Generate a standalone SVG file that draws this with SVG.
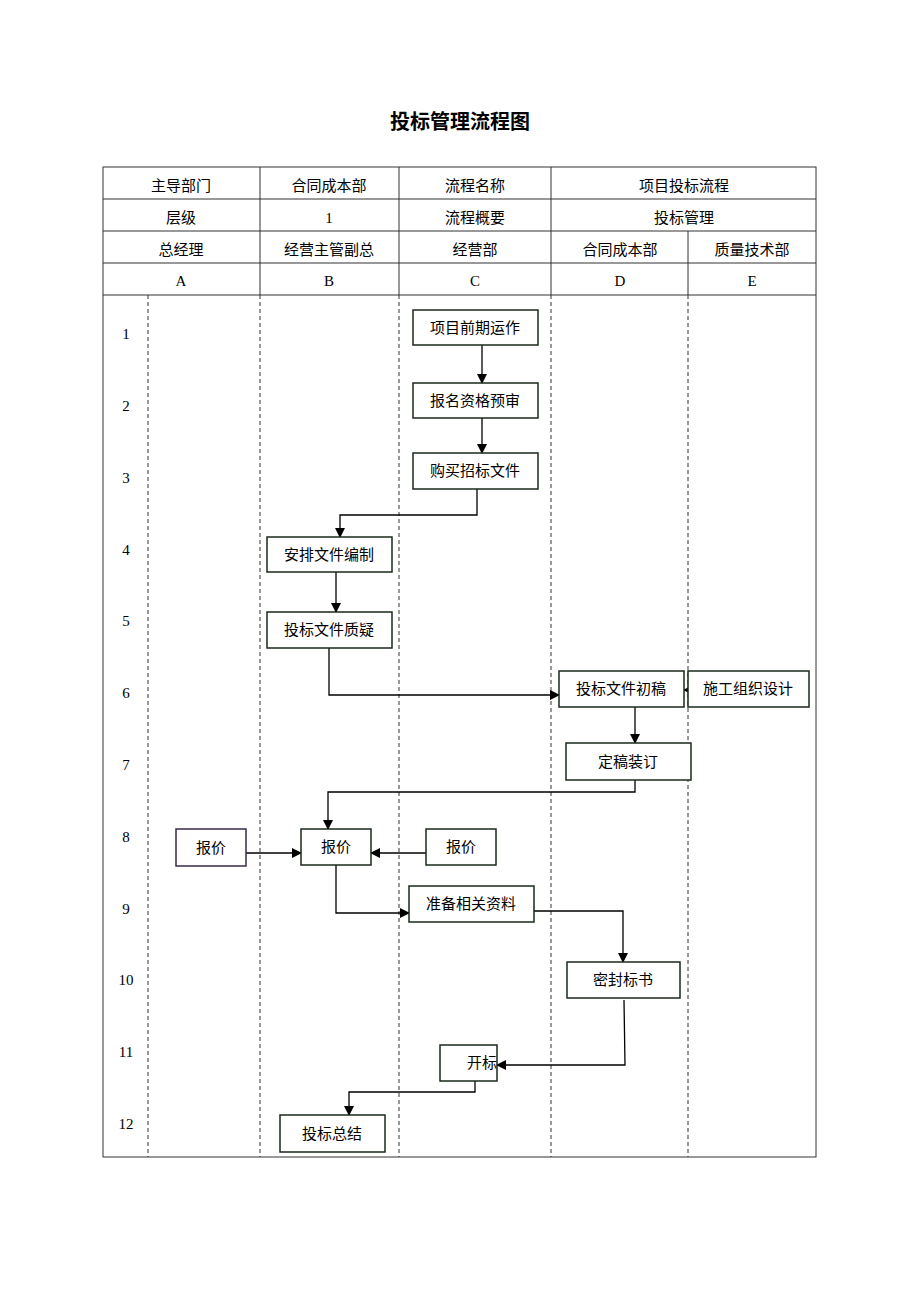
<svg xmlns="http://www.w3.org/2000/svg" width="920" height="1302" viewBox="0 0 920 1302">
<style>
text{font-family:"Liberation Serif","Noto Sans CJK SC",serif;font-size:15px;fill:#000;text-anchor:middle;dominant-baseline:central}
.title{font-size:20px;font-weight:bold}
.t{stroke:#333;stroke-width:1;fill:none}
.d{stroke:#333;stroke-width:1;stroke-dasharray:4,3;fill:none}
.n rect{fill:#fff;stroke:#1a2a1a;stroke-width:1.5}
.p rect{stroke:#3a2a4a}
.c{stroke:#000;stroke-width:1.3;fill:none}
</style>
<defs><marker id="a" markerWidth="10" markerHeight="10" refX="9" refY="5" orient="auto" markerUnits="userSpaceOnUse"><path d="M0,0L10,5L0,10z" fill="#000"/></marker></defs>
<rect width="920" height="1302" fill="#fff"/>
<text class="title" x="460" y="122">投标管理流程图</text>
<g id="table">
<rect class="t" x="103" y="167" width="713" height="990"/>
<path class="t" d="M103 199H816M103 231H816M103 263H816M103 295H816M260 167V295M399 167V295M551 167V295M688 231V295"/>
<path class="d" d="M148 295V1157M260 295V1157M399 295V1157M551 295V1157M688 295V1157"/>
<text x="181" y="186">主导部门</text><text x="329" y="186">合同成本部</text><text x="475" y="186">流程名称</text><text x="684" y="186">项目投标流程</text>
<text x="181" y="218">层级</text><text x="329" y="218">1</text><text x="475" y="218">流程概要</text><text x="684" y="218">投标管理</text>
<text x="181" y="250">总经理</text><text x="329" y="250">经营主管副总</text><text x="475" y="250">经营部</text><text x="620" y="250">合同成本部</text><text x="752" y="250">质量技术部</text>
<text x="181" y="281">A</text><text x="329" y="281">B</text><text x="475" y="281">C</text><text x="620" y="281">D</text><text x="752" y="281">E</text>
<text x="126" y="334">1</text><text x="126" y="406">2</text><text x="126" y="478">3</text><text x="126" y="550">4</text><text x="126" y="621">5</text><text x="126" y="693">6</text><text x="126" y="765">7</text><text x="126" y="837">8</text><text x="126" y="909">9</text><text x="126" y="980">10</text><text x="126" y="1052">11</text><text x="126" y="1124">12</text>
</g>
<g id="connectors">
<path class="c" marker-end="url(#a)" d="M482 345V383"/>
<path class="c" marker-end="url(#a)" d="M482 418V453"/>
<path class="c" marker-end="url(#a)" d="M477 489V515H340V537"/>
<path class="c" marker-end="url(#a)" d="M336 572V612"/>
<path class="c" marker-end="url(#a)" d="M329 648V695H559"/>
<path class="c" marker-end="url(#a)" d="M688 690H684"/>
<path class="c" marker-end="url(#a)" d="M635 707V743"/>
<path class="c" marker-end="url(#a)" d="M635 780V792H328V829"/>
<path class="c" marker-end="url(#a)" d="M246 853H301"/>
<path class="c" marker-end="url(#a)" d="M426 853H371"/>
<path class="c" marker-end="url(#a)" d="M336 865V913H409"/>
<path class="c" marker-end="url(#a)" d="M534 911H623V962"/>
<path class="c" marker-end="url(#a)" d="M624 1000L625 1065H497"/>
<path class="c" marker-end="url(#a)" d="M475 1081V1092H349V1115"/>
</g>
<g id="n1" class="n"><rect x="413" y="310" width="125" height="35"/><text x="475" y="328">项目前期运作</text></g>
<g id="n2" class="n"><rect x="413" y="383" width="125" height="35"/><text x="475" y="401">报名资格预审</text></g>
<g id="n3" class="n"><rect x="413" y="453" width="125" height="36"/><text x="475" y="471">购买招标文件</text></g>
<g id="n4" class="n"><rect x="267" y="537" width="125" height="35"/><text x="329" y="555">安排文件编制</text></g>
<g id="n5" class="n"><rect x="267" y="612" width="125" height="36"/><text x="329" y="630">投标文件质疑</text></g>
<g id="n6" class="n"><rect x="559" y="671" width="125" height="36"/><text x="621" y="689">投标文件初稿</text></g>
<g id="n6e" class="n"><rect x="688" y="671" width="121" height="36"/><text x="748" y="689">施工组织设计</text></g>
<g id="n7" class="n"><rect x="566" y="743" width="125" height="37"/><text x="628" y="762">定稿装订</text></g>
<g id="n8a" class="n p"><rect x="176" y="829" width="70" height="37"/><text x="211" y="848">报价</text></g>
<g id="n8b" class="n"><rect x="301" y="829" width="70" height="36"/><text x="336" y="847">报价</text></g>
<g id="n8c" class="n"><rect x="426" y="829" width="70" height="36"/><text x="461" y="847">报价</text></g>
<g id="n9" class="n"><rect x="409" y="886" width="125" height="36"/><text x="471" y="904">准备相关资料</text></g>
<g id="n10" class="n"><rect x="567" y="962" width="113" height="36"/><text x="623" y="980">密封标书</text></g>
<g id="n11" class="n"><rect x="440" y="1045" width="57" height="36"/><text x="482" y="1063">开标</text></g>
<g id="n12" class="n"><rect x="280" y="1115" width="105" height="37"/><text x="332" y="1134">投标总结</text></g>
</svg>
